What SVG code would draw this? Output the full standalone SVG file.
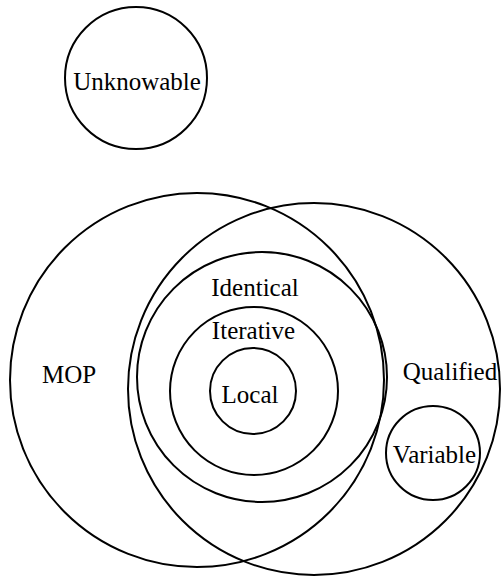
<svg xmlns="http://www.w3.org/2000/svg" width="501" height="576" viewBox="0 0 501 576">
<style>
.c{fill:none;stroke:#000;stroke-width:2}
.t{font-family:"Liberation Serif","Times New Roman",serif;font-size:25px;fill:#000;text-anchor:middle}
</style>
<rect width="501" height="576" fill="#fff"/>
<g id="unknowable"><circle class="c" cx="136" cy="78" r="71"/><text class="t" x="137" y="90">Unknowable</text></g>
<g id="mop"><circle class="c" cx="197" cy="380" r="187"/><text class="t" x="69" y="383">MOP</text></g>
<g id="qualified"><circle class="c" cx="314" cy="389" r="186"/><text class="t" x="450" y="380">Qualified</text></g>
<g id="identical"><circle class="c" cx="262" cy="377" r="125"/><text class="t" x="255" y="296">Identical</text></g>
<g id="iterative"><circle class="c" cx="254" cy="391" r="84"/><text class="t" x="253.5" y="339">Iterative</text></g>
<g id="local"><circle class="c" cx="253" cy="391" r="43"/><text class="t" x="250" y="403">Local</text></g>
<g id="variable"><circle class="c" cx="433" cy="453" r="47"/><text class="t" x="434.5" y="463">Variable</text></g>
<g id="connectors"></g>
</svg>
